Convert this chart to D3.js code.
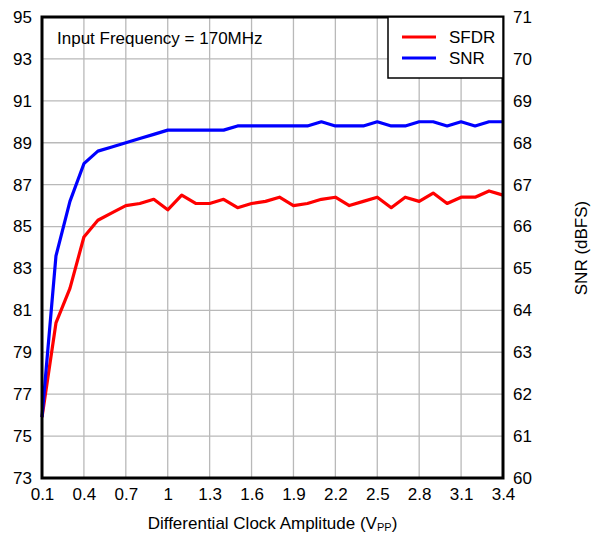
<!DOCTYPE html>
<html>
<head>
<meta charset="utf-8">
<script src="https://cdn.jsdelivr.net/npm/d3@7"></script>
<style>
  html, body { margin: 0; padding: 0; background: #fff; }
  svg { display: block; font-family: "Liberation Sans", Arial, sans-serif; }
</style>
</head>
<body>
<svg id="chart" width="592" height="535"></svg>
<script>
// Clock amplitude sweep (Vpp)
const amplitude = [0.1, 0.2, 0.3, 0.4, 0.5, 0.6, 0.7, 0.8, 0.9, 1.0,
  1.1, 1.2, 1.3, 1.4, 1.5, 1.6, 1.7, 1.8, 1.9, 2.0,
  2.1, 2.2, 2.3, 2.4, 2.5, 2.6, 2.7, 2.8, 2.9, 3.0,
  3.1, 3.2, 3.3, 3.4];
// SFDR (dBc), left axis
const sfdr = [75.9, 80.4, 82.05, 84.5, 85.3, 85.65, 86.0, 86.1, 86.3, 85.8,
  86.5, 86.1, 86.1, 86.3, 85.9, 86.1, 86.2, 86.4, 86.0, 86.1,
  86.3, 86.4, 86.0, 86.2, 86.4, 85.9, 86.4, 86.2, 86.6, 86.1,
  86.4, 86.4, 86.7, 86.5];
// SNR (dBFS), right axis
const snr = [61.45, 65.3, 66.6, 67.5, 67.8, 67.9, 68.0, 68.1, 68.2, 68.3,
  68.3, 68.3, 68.3, 68.3, 68.4, 68.4, 68.4, 68.4, 68.4, 68.4,
  68.5, 68.4, 68.4, 68.4, 68.5, 68.4, 68.4, 68.5, 68.5, 68.4,
  68.5, 68.4, 68.5, 68.5];

const xTicks = [0.1, 0.4, 0.7, 1.0, 1.3, 1.6, 1.9, 2.2, 2.5, 2.8, 3.1, 3.4];
const xTickLabels = ["0.1", "0.4", "0.7", "1", "1.3", "1.6", "1.9", "2.2", "2.5", "2.8", "3.1", "3.4"];
const leftTicks = [73, 75, 77, 79, 81, 83, 85, 87, 89, 91, 93, 95];
const rightTicks = [60, 61, 62, 63, 64, 65, 66, 67, 68, 69, 70, 71];

const seriesNames = ["SFDR", "SNR"];
const seriesColors = ["#ff0000", "#0000ff"];
const annotation = "Input Frequency = 170MHz";

const svg = d3.select("#chart");
const plot = { left: 42, right: 503, top: 17, bottom: 478 };
const fontSize = 17;

const x = d3.scaleLinear().domain([0.1, 3.4]).range([plot.left, plot.right]);
const yL = d3.scaleLinear().domain([73, 95]).range([plot.bottom, plot.top]);
const yR = d3.scaleLinear().domain([60, 71]).range([plot.bottom, plot.top]);

// grid
const grid = svg.append("g").attr("stroke", "#b9b9b9").attr("stroke-width", 1.3);
grid.selectAll("line.v").data(xTicks.slice(1, -1)).join("line")
  .attr("x1", d => x(d)).attr("x2", d => x(d))
  .attr("y1", plot.top).attr("y2", plot.bottom);
grid.selectAll("line.h").data(leftTicks.slice(1, -1)).join("line")
  .attr("x1", plot.left).attr("x2", plot.right)
  .attr("y1", d => yL(d)).attr("y2", d => yL(d));

// axes (labels only)
const xAxis = d3.axisBottom(x).tickValues(xTicks)
  .tickFormat((d, i) => xTickLabels[i]).tickSize(0).tickPadding(10);
const gx = svg.append("g").attr("transform", `translate(0,${plot.bottom})`).call(xAxis);

const leftAxis = d3.axisLeft(yL).tickValues(leftTicks).tickFormat(d3.format("d"))
  .tickSize(0).tickPadding(10);
const gl = svg.append("g").attr("transform", `translate(${plot.left},0)`).call(leftAxis);

const rightAxis = d3.axisRight(yR).tickValues(rightTicks).tickFormat(d3.format("d"))
  .tickSize(0).tickPadding(10);
const gr = svg.append("g").attr("transform", `translate(${plot.right},0)`).call(rightAxis);

[gx, gl, gr].forEach(g => {
  g.select(".domain").remove();
  g.selectAll("text").attr("font-size", fontSize).attr("fill", "#000")
    .attr("font-family", "'Liberation Sans', Arial, sans-serif");
});

// data lines
const lineL = d3.line().x((d, i) => x(amplitude[i])).y(d => yL(d));
const lineR = d3.line().x((d, i) => x(amplitude[i])).y(d => yR(d));
svg.append("path").datum(sfdr).attr("d", lineL)
  .attr("fill", "none").attr("stroke", seriesColors[0]).attr("stroke-width", 3.2)
  .attr("stroke-linejoin", "round");
svg.append("path").datum(snr).attr("d", lineR)
  .attr("fill", "none").attr("stroke", seriesColors[1]).attr("stroke-width", 3.2)
  .attr("stroke-linejoin", "round");

// frame
svg.append("rect")
  .attr("x", plot.left).attr("y", plot.top)
  .attr("width", plot.right - plot.left).attr("height", plot.bottom - plot.top)
  .attr("fill", "none").attr("stroke", "#000").attr("stroke-width", 3);

// annotation
svg.append("text").attr("x", 57).attr("y", 44)
  .attr("font-size", fontSize).text(annotation);

// legend
const lg = svg.append("g");
lg.append("rect").attr("x", 388).attr("y", 17).attr("width", 115).attr("height", 61)
  .attr("fill", "#fff").attr("stroke", "#000").attr("stroke-width", 1.5);
seriesNames.forEach((name, i) => {
  const cy = 37 + i * 21;
  lg.append("line").attr("x1", 402).attr("x2", 436).attr("y1", cy).attr("y2", cy)
    .attr("stroke", seriesColors[i]).attr("stroke-width", 3.2);
  lg.append("text").attr("x", 449).attr("y", cy).attr("dy", "0.35em")
    .attr("font-size", fontSize).text(name);
});

// axis titles
svg.append("text")
  .attr("transform", "translate(587,248) rotate(-90)")
  .attr("text-anchor", "middle").attr("font-size", fontSize)
  .text("SNR (dBFS)");

const xt = svg.append("text").attr("x", (plot.left + plot.right) / 2).attr("y", 529)
  .attr("text-anchor", "middle").attr("font-size", fontSize);
xt.append("tspan").text("Differential Clock Amplitude (V");
xt.append("tspan").attr("font-size", 11).attr("dy", 2).text("PP");
xt.append("tspan").attr("dy", -2).text(")");
</script>
</body>
</html>
